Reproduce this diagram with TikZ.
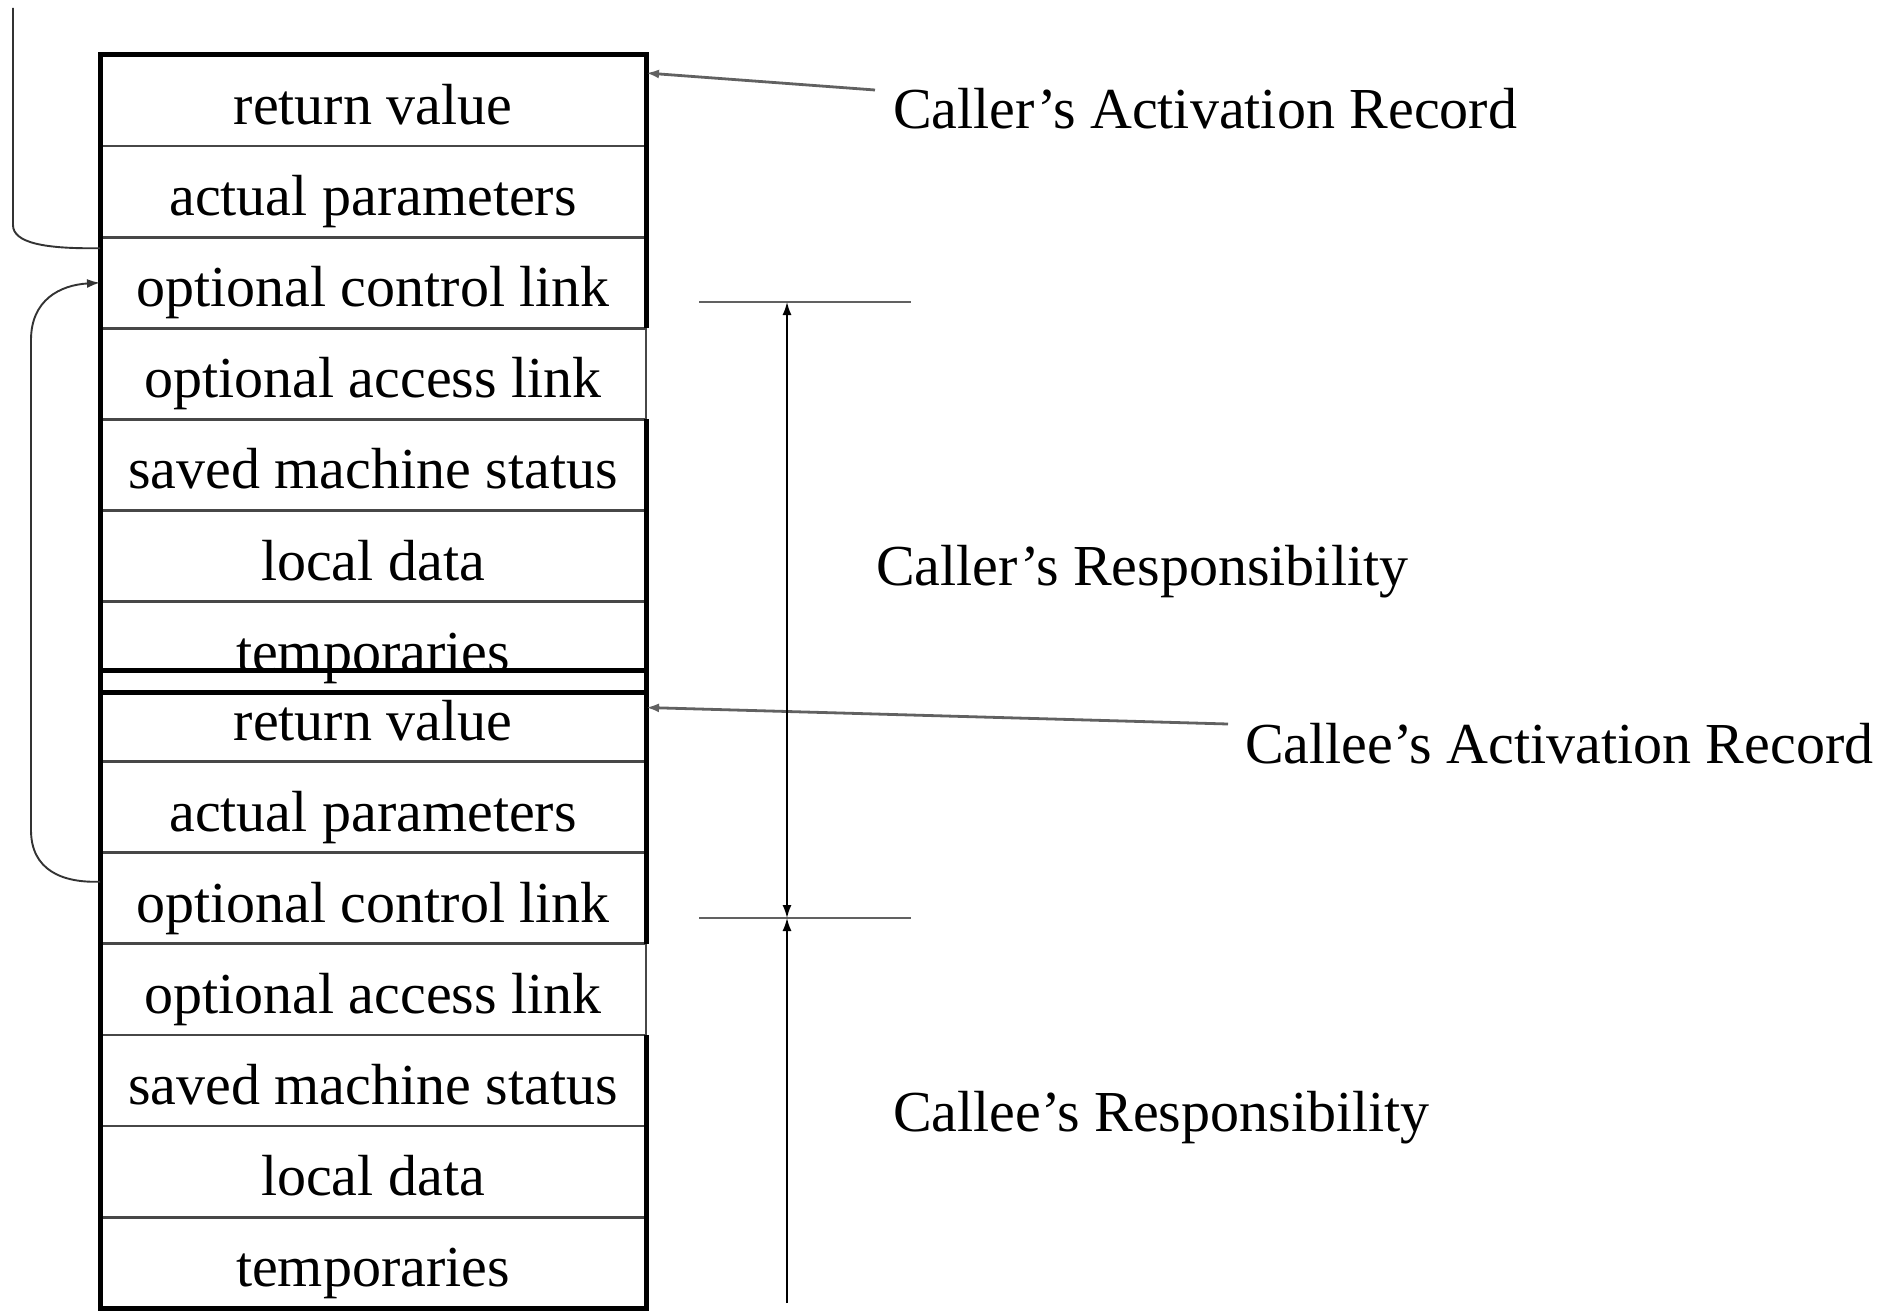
\documentclass[tikz,border=0pt]{standalone}
\usepackage{fontspec}
\setmainfont{Liberation Serif}
\usetikzlibrary{arrows.meta,calc}
\newcommand\recfont{\fontsize{58}{64}\selectfont}

\begin{document}
\begin{tikzpicture}[x=1pt,y=-1pt,
  cell/.style={draw=black!72, line width=2.8pt, outer sep=0pt, inner sep=0pt,
    minimum width=546pt, minimum height=91.1pt,
    text height=58pt, text depth=10pt, font=\recfont},
  recframe/.style={line width=5pt, line join=miter, draw=black},
  note/.style={font=\recfont, anchor=base west, inner sep=0pt},
  linkline/.style={line width=1.9pt, draw=black!80},
  pointer/.style={line width=2.8pt, draw=black!62},
  arrowtip/.style={-{Latex[length=13pt,width=9pt]}},
  dimtick/.style={line width=2.6pt, draw=black!62},
  dimline/.style={line width=1.6pt, draw=black}
]
\useasboundingbox (0,0) rectangle (1887,1311);

% caller's activation record
\foreach \t [count=\i] in {return value, actual parameters, optional control link,
    optional access link, saved machine status, local data, temporaries}
  \node[cell] (caller\i) at (373, {55+91.1*(\i-0.5)}) {\t};

% callee's activation record (its top overlaps the caller's bottom)
\foreach \t [count=\i] in {return value, actual parameters, optional control link,
    optional access link, saved machine status, local data, temporaries}
  \node[cell, fill=none] (callee\i) at (373, {670.5+91.1*(\i-0.5)}) {\t};

% heavy outlines; the access-link row keeps a thin right edge
\draw[recframe] (caller3.south east) -- (caller1.north east) -- (caller1.north west)
  -- (caller7.south west) -- (caller7.south east) -- (caller5.north east);
\draw[recframe] (callee3.south east) -- (callee1.north east) -- (callee1.north west)
  -- (callee7.south west) -- (callee7.south east) -- (callee5.north east);

% labels on the right
\node[note] (callerAR) at (893,129) {Caller’s Activation Record};
\node[note] (calleeAR) at (1245,763) {Callee’s Activation Record};
\node[note] (callerResp) at (876,585) {Caller’s Responsibility};
\node[note] (calleeResp) at (893,1131) {Callee’s Responsibility};

\coordinate (callerARfrom) at (875,90);
\coordinate (calleeARfrom) at (1228,724);
\draw[pointer, arrowtip] (callerARfrom) -- ($(caller1.north east)+(0,18)$);
\draw[pointer, arrowtip] (calleeARfrom) -- ($(callee1.north east)+(0,37)$);

% responsibility split
\coordinate (tickAl) at (699,302);
\coordinate (tickAr) at (911,302);
\coordinate (tickAm) at (787,302);
\coordinate (tickBl) at (699,918);
\coordinate (tickBr) at (911,918);
\coordinate (tickBm) at (787,918);
\coordinate (dimEnd) at (787,1303);
\draw[dimtick] (tickAl) -- (tickAr);
\draw[dimtick] (tickBl) -- (tickBr);
\draw[dimline, {Latex[length=13pt,width=9pt]}-{Latex[length=13pt,width=9pt]}] (tickAm) -- (tickBm);
\draw[dimline, arrowtip] (dimEnd) -- (tickBm);

% control links
\coordinate (linkTop) at (13,8);
\draw[linkline] (linkTop) -- (13,225) .. controls (13,243) and (45,249)
  .. ($(caller3.north west)+(0,11)$);
\draw[linkline, -{Latex[length=13pt,width=9pt]}] ($(callee3.north west)+(0,29)$)
  .. controls (62,883) and (31,870) .. (31,830) -- (31,340)
  .. controls (31,300) and (60,285) .. (caller3.west);
\end{tikzpicture}
\end{document}
